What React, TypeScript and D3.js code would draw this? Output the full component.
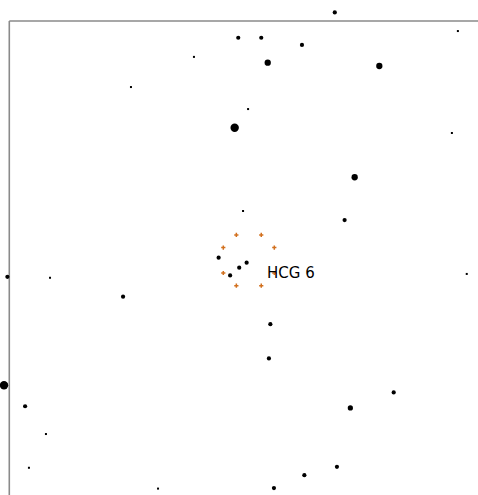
import React from "react";
import * as d3 from "d3";

// Star offsets (arcmin-like units) from the group centre, and magnitudes
const starX = [-0.44, -2.29, -4.92, -0.59, 3.59, 8.73, 0.52, 2.22, 0.79, 5.45, -0.03, 8.48, 4.42, -0.24, 4.0, -1.26, -0.4, -0.78, -0.09, -10.08, -8.3, -5.25, -10.22, -9.34, -8.47, -9.18, -3.79, 9.1, 0.9, 0.84, 6.05, 4.24, 3.68, 2.32, 1.05];
const starY = [9.3, 8.5, 7.24, 5.54, 10.36, 9.58, 9.3, 9.0, 8.26, 8.12, 6.32, 5.32, 3.47, 2.06, 1.68, 0.11, -0.31, -0.63, -0.1, -0.69, -0.73, -1.52, -5.22, -6.1, -7.26, -8.67, -9.54, -0.57, -2.67, -4.1, -5.52, -6.17, -8.63, -8.98, -9.52];
const starMag = [15, 17, 17, 11, 15, 17, 15, 15, 13, 13, 17, 17, 13, 17, 15, 15, 15, 15, 15, 15, 17, 15, 11, 15, 17, 17, 17, 17, 15, 15, 15, 14, 15, 15, 15];

// Member markers (orange crosses)
const memberX = [-0.52, 0.52, -1.065, 1.065, -1.065, 1.065, -0.52, 0.52];
const memberY = [1.06, 1.06, 0.53, 0.53, -0.53, -0.53, -1.06, -1.06];

const labelText = ["HCG 6"];
const labelX = [0.76];
const labelY = [-0.74];

const W = 478;
const H = 495;

export default function App() {
  const x = d3.scaleLinear().domain([-10, 10]).range([9.3, 488.3]);
  const y = d3.scaleLinear().domain([-10, 10]).range([499.6, 21]);
  const r = d3.scaleLinear().domain([11, 17]).range([4.2, 1.05]);
  const cs = 2.1;

  return (
    <svg
      width={W}
      height={H}
      style={{ position: "absolute", left: 0, top: 0, background: "#fff" }}
    >
      <line x1={x(-10)} x2={x(10)} y1={y(10)} y2={y(10)} stroke="#8a8a8a" strokeWidth={1.6} />
      <line x1={x(-10)} x2={x(-10)} y1={y(10)} y2={y(-10)} stroke="#8a8a8a" strokeWidth={1.6} />
      {starX.map((sx, i) =>
        starMag[i] >= 17 ? (
          <rect key={i} x={x(sx) - 1} y={y(starY[i]) - 1} width={2} height={2} fill="#000" />
        ) : (
          <circle key={i} cx={x(sx)} cy={y(starY[i])} r={r(starMag[i])} fill="#000" />
        )
      )}
      {memberX.map((mx, i) => {
        const px = x(mx);
        const py = y(memberY[i]);
        return (
          <path
            key={"m" + i}
            d={`M${px - cs},${py}H${px + cs}M${px},${py - cs}V${py + cs}`}
            stroke="#d2701e"
            strokeWidth={1.5}
            fill="none"
          />
        );
      })}
      {labelText.map((t, i) => (
        <text
          key={"t" + i}
          x={x(labelX[i])}
          y={y(labelY[i])}
          fontFamily="DejaVu Sans"
          fontSize={15}
          fill="#000"
        >
          {t}
        </text>
      ))}
    </svg>
  );
}
